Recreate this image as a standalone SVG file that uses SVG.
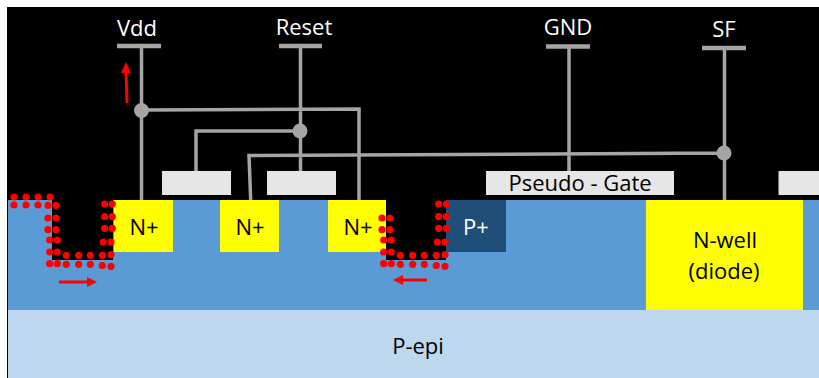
<svg xmlns="http://www.w3.org/2000/svg" width="819" height="378" viewBox="0 0 819 378">
<style>
text{font-family:"Open Sans","Noto Sans","Liberation Sans",sans-serif;font-size:22px;text-anchor:middle;fill:#000}
.w{fill:#fff}
.y{fill:#ffff00}
.g{fill:#e7e6e6}
.wire{fill:none;stroke:#a5a5a5;stroke-width:3.500}
.bar{fill:none;stroke:#a5a5a5;stroke-width:4.500}
.j{fill:#a5a5a5}
.dots circle{fill:#ff0000;r:3.600px}
.arr{stroke:#ff0000;stroke-width:3;fill:none}
.hd{fill:#ff0000}
</style>
<defs>
<g id="d1" class="dots">
<circle cx="14" cy="197"/><circle cx="26" cy="197"/><circle cx="38" cy="197"/><circle cx="50" cy="197"/>
<circle cx="14" cy="205"/><circle cx="26" cy="205"/><circle cx="38" cy="205"/><circle cx="48" cy="205.300"/><circle cx="56" cy="205.300"/>
</g>
<g id="d2" class="dots">
<circle cx="48" cy="218"/><circle cx="56" cy="218"/>
<circle cx="48" cy="229.700"/><circle cx="56" cy="229.700"/>
<circle cx="49.700" cy="240"/><circle cx="57.300" cy="240"/>
<circle cx="49.700" cy="252"/><circle cx="57.300" cy="252"/>
<circle cx="49.700" cy="263.700"/><circle cx="57.300" cy="263.700"/>
<circle cx="66.300" cy="255.300"/><circle cx="78.700" cy="255.300"/><circle cx="90.300" cy="255.300"/><circle cx="102.300" cy="255.300"/><circle cx="111" cy="254.700"/>
<circle cx="66.300" cy="264.300"/><circle cx="78.700" cy="264.300"/><circle cx="90.300" cy="264.300"/><circle cx="102.300" cy="265.500"/><circle cx="111" cy="266.300"/>
<circle cx="104.700" cy="204"/><circle cx="112.300" cy="204"/>
<circle cx="104.700" cy="216.700"/><circle cx="112.300" cy="216.700"/>
<circle cx="104.700" cy="228.300"/><circle cx="112.300" cy="228.300"/>
<circle cx="103.300" cy="242"/><circle cx="111" cy="242"/>
</g>
</defs>
<rect x="0" y="0" width="819" height="378" fill="#fff"/>
<rect x="7" y="7" width="812" height="371" fill="#000"/>
<rect x="8" y="200" width="811" height="110" fill="#5b9bd5"/>
<rect x="8" y="310" width="811" height="68" fill="#bdd7ee"/>
<rect x="52" y="200" width="61" height="60" fill="#000"/>
<rect x="386" y="200" width="60" height="60" fill="#000"/>

<g id="connectors">
<path class="bar" d="M117 46H161M279 46H322M546 46.500H590M702 48H746"/>
<path class="wire" d="M141.500 46V200M141.500 110L359 109V200M300.500 46V171M300 131H196V171M569 46.500V171M724.500 48V200M724 153L249 155.500L250.700 200"/>
<circle class="j" cx="141.500" cy="110.500" r="7.500"/>
<circle class="j" cx="300" cy="131" r="7.500"/>
<circle class="j" cx="724" cy="153" r="7.500"/>
</g>

<g id="vdd"><text class="w" x="137" y="36">Vdd</text></g>
<g id="reset"><text class="w" x="304" y="35">Reset</text></g>
<g id="gnd"><text class="w" x="568" y="35">GND</text></g>
<g id="sf"><text class="w" x="724" y="37">SF</text></g>

<g id="gate1"><rect class="g" x="162" y="171" width="69" height="24"/></g>
<g id="gate2"><rect class="g" x="267" y="171" width="69" height="24"/></g>
<g id="pseudo-gate"><rect class="g" x="486" y="171" width="188" height="24"/><text x="580" y="191">Pseudo - Gate</text></g>
<g id="gate4"><rect class="g" x="778.500" y="171" width="40.500" height="24"/></g>

<g id="n1"><rect class="y" x="114" y="200" width="59" height="52"/><text x="144" y="235">N+</text></g>
<g id="n2"><rect class="y" x="220" y="200" width="59" height="52"/><text x="250" y="235">N+</text></g>
<g id="n3"><rect class="y" x="328" y="200" width="58" height="52"/><text x="358" y="235">N+</text></g>
<g id="p1"><rect x="446" y="200" width="60" height="52" fill="#1f4e79"/><text class="w" x="476" y="235">P+</text></g>
<g id="nwell"><rect class="y" x="646" y="200" width="157" height="110"/><text x="725" y="248">N-well</text><text x="724" y="279">(diode)</text></g>
<g id="pepi"><text x="418" y="354">P-epi</text></g>

<use href="#d1"/>
<use href="#d2"/>
<use href="#d2" x="334"/>

<g id="arrows">
<path class="arr" d="M127 103L126 70"/><path class="hd" d="M126 62L131 73H121Z"/>
<path class="arr" d="M59 282H88"/><path class="hd" d="M97 282L87 277V287Z"/>
<path class="arr" d="M427 280H402"/><path class="hd" d="M393 280L403 275V285Z"/>
</g>
</svg>
